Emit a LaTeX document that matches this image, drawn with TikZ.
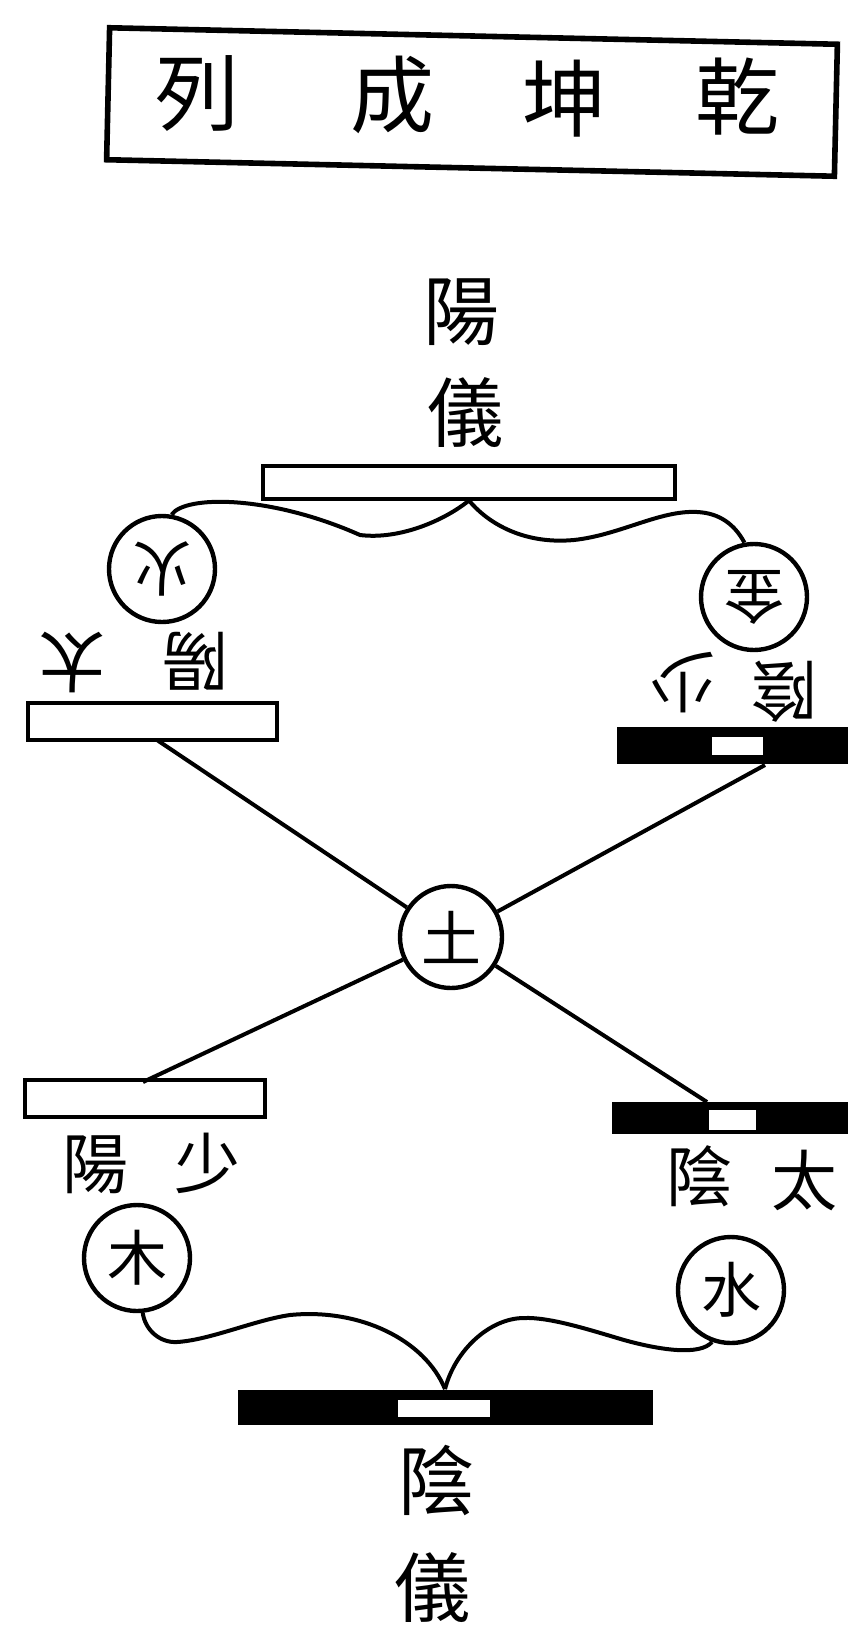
\documentclass[tikz,border=0pt]{standalone}
\usepackage{fontspec}
\newfontfamily\cjk{Noto Sans CJK TC}
\begin{document}
\begin{tikzpicture}[x=0.5pt, y=-0.5pt,
    wire/.style={line width=2pt},
    yangbar/.style={draw, line width=2pt, fill=white, inner sep=0pt},
    yinbar/.style={fill=black, inner sep=0pt},
    gapbar/.style={fill=white, inner sep=0pt},
    elem/.style={draw, circle, line width=2.2pt, minimum size=53pt, inner sep=0pt, font=\cjk\fontsize{30}{30}\selectfont},
    lbl/.style={inner sep=0pt, font=\cjk\fontsize{33}{33}\selectfont},
    big/.style={inner sep=0pt, font=\cjk\fontsize{38}{38}\selectfont}]
    \useasboundingbox (0,0) rectangle (848,1632);

    % 標題
    \node[draw, line width=2.8pt, minimum width=364pt, minimum height=66pt, rotate=-1.3] (title) at (472,102) {};
    \node[big, font=\cjk\fontsize{42}{42}\selectfont] (lie) at (197,94) {列};
    \node[big, font=\cjk\fontsize{42}{42}\selectfont] (cheng) at (392,95) {成};
    \node[big, font=\cjk\fontsize{42}{42}\selectfont] (kun) at (564,99) {坤};
    \node[big, font=\cjk\fontsize{42}{42}\selectfont] (qian) at (737,97) {乾};

    % 陽儀
    \node[big] (yangA) at (461,312) {陽};
    \node[big] (yiA) at (465,413) {儀};
    \node[yangbar, minimum width=206pt, minimum height=16.5pt] (yangyi) at (469,482) {};

    % 火、金（倒書）
    \node[elem, rotate=180] (huo) at (162,569) {火};
    \node[elem, rotate=180] (jin) at (754,597) {金};

    % 太陽、少陰（倒書）
    \node[lbl, rotate=180] (taiA) at (72,662) {太};
    \node[lbl, rotate=180] (yangB) at (195,661) {陽};
    \node[yangbar, minimum width=124.5pt, minimum height=18.5pt] (taiyang) at (152,721) {};

    \node[lbl, rotate=180] (shaoA) at (682,683) {少};
    \node[lbl, rotate=180] (yinA) at (784,692) {陰};
    \node[yinbar, minimum width=115.5pt, minimum height=18.5pt] (shaoyin) at (732.5,745) {};
    \node[gapbar, minimum width=25.5pt, minimum height=9pt] (shaoyinw) at (737,746) {};

    % 土
    \node[elem, minimum size=51pt] (tu) at (451,937) {土};

    % 少陽、太陰
    \node[yangbar, minimum width=120pt, minimum height=18.5pt] (shaoyang) at (145,1098) {};
    \node[lbl] (yangC) at (95,1165) {陽};
    \node[lbl] (shaoB) at (207,1163) {少};

    \node[yinbar, minimum width=118pt, minimum height=16pt] (taiyin) at (730,1118) {};
    \node[gapbar, minimum width=23.5pt, minimum height=10pt] (taiyinw) at (732,1120) {};
    \node[lbl] (yinB) at (699,1176) {陰};
    \node[lbl] (taiB) at (804,1181) {太};

    % 木、水
    \node[elem] (mu) at (137,1258) {木};
    \node[elem] (shui) at (731,1290) {水};

    % 陰儀
    \node[yinbar, minimum width=207.5pt, minimum height=17.5pt] (yinyi) at (445,1407) {};
    \node[gapbar, minimum width=46pt, minimum height=8.5pt] (yinyiw) at (444,1408) {};
    \node[big] (yinC) at (436,1480) {陰};
    \node[big] (yiB) at (432,1588) {儀};

    % 四象連線
    \coordinate (pTY) at (157,740);
    \coordinate (pSY) at (765,765);
    \coordinate (pSYang) at (143,1082);
    \coordinate (pTYin) at (707,1102);
    \draw[wire] (tu) -- (pTY);
    \draw[wire] (tu) -- (pSY);
    \draw[wire] (tu) -- (pSYang);
    \draw[wire] (tu) -- (pTYin);

    % 曲線
    \draw[wire] (huo.260) .. controls (185,495) and (270,495) .. (360,535)
        .. controls (400,540) and (445,520) .. (yangyi.south);
    \draw[wire] (yangyi.south) .. controls (485,520) and (520,545) .. (574,540)
        .. controls (620,535) and (660,510) .. (697,512)
        .. controls (720,513) and (735,525) .. (jin.280);
    \draw[wire] (mu.-84) .. controls (145,1330) and (160,1343) .. (177,1342)
        .. controls (210,1340) and (255,1320) .. (290,1315)
        .. controls (360,1308) and (425,1340) .. (yinyi.north);
    \draw[wire] (shui.-110) .. controls (700,1356) and (660,1350) .. (624,1340)
        .. controls (590,1330) and (550,1317) .. (524,1318)
        .. controls (490,1318) and (455,1350) .. (yinyi.north);
\end{tikzpicture}
\end{document}
